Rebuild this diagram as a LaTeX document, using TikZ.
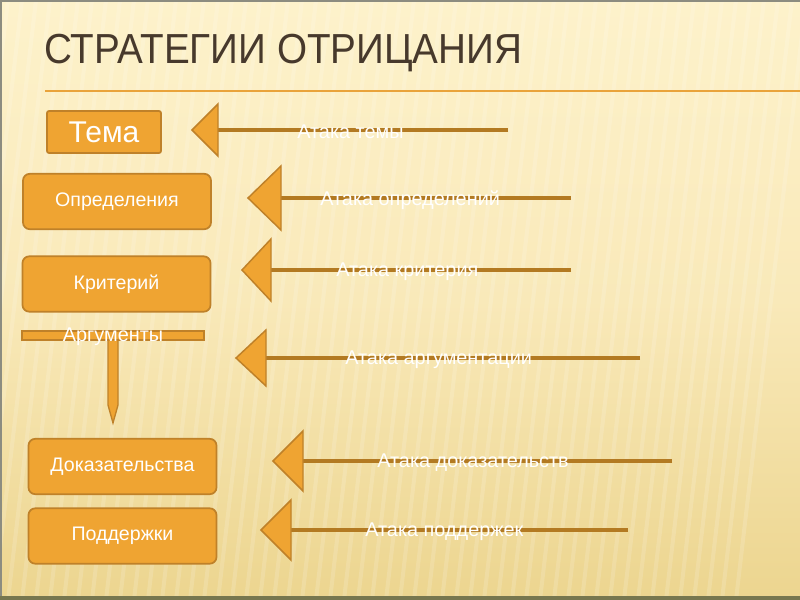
\documentclass[tikz,border=0pt]{standalone}
\usepackage{fontspec}
\setmainfont{Liberation Sans}
\definecolor{bgtop}{HTML}{FDF2CB}
\definecolor{bgmid}{HTML}{F9E9B9}
\definecolor{bgbot}{HTML}{ECD58F}
\definecolor{boxfill}{HTML}{EFA432}
\definecolor{boxdraw}{HTML}{BF8129}
\definecolor{shaft}{HTML}{B37A22}
\definecolor{titlecol}{HTML}{47392C}
\definecolor{rulecol}{HTML}{E9A33B}
\definecolor{framecol}{HTML}{8C8C80}
\definecolor{bottomcol}{HTML}{77774F}
\tikzset{
  box/.style={draw=boxdraw, fill=boxfill, line width=1.3pt, rounded corners=5pt,
    minimum width=141pt, minimum height=41.5pt, text=white, font=\fontsize{14.7}{17}\selectfont, inner sep=0pt},
  temabox/.style={box, rounded corners=1.5pt, minimum width=85.5pt, minimum height=31.5pt, font=\fontsize{22.5}{25}\selectfont},
  lbl/.style={text=white, font=\fontsize{14.9}{17}\selectfont, inner sep=0pt, anchor=west},
  shaftline/.style={draw=shaft, line width=3.2pt},
  head/.style={draw=boxdraw, fill=boxfill, line width=1.1pt, line join=miter},
}
\begin{document}
\begin{tikzpicture}[x=0.75pt, y=-0.75pt]
\useasboundingbox (0,0) rectangle (800,600);
% background
\shade[top color=bgtop, bottom color=bgbot, middle color=bgmid] (0,0) rectangle (800,600);
\begin{scope}
\clip (0,0) rectangle (800,600);
\foreach \i in {0,...,64} {
  \draw[white, opacity=0.15, line width=3pt] ({\i*14-160},600) -- ({\i*14-90},0);
}
\end{scope}
\fill[framecol] (0,0) rectangle (800,1.5);
\fill[framecol] (0,0) rectangle (1.5,600);
\fill[bottomcol] (0,596) rectangle (800,600);
% title
\node[anchor=base west, inner sep=0pt, text=titlecol] (title) at (44,63)
  {\scalebox{0.92}[1]{\fontsize{31.5}{34}\selectfont СТРАТЕГИИ ОТРИЦАНИЯ}};
\coordinate (ruleL) at (45,91);
\coordinate (ruleR) at (800,91);
\draw[rulecol, line width=2.2pt] (ruleL) -- (ruleR);
% boxes
\node[temabox] (tema) at (104,132) {Тема};
\node[box] (opr) at (117,201.5) {Определения};
\node[box] (krit) at (116.5,284) {Критерий};
\node[box] (dok) at (122.5,466.5) {Доказательства};
\node[box] (podd) at (122.5,536) {Поддержки};
% arguments bar + down arrow
\path[draw=boxdraw, fill=boxfill, line width=1pt] (22,331) rectangle (204,340);
\path[draw=boxdraw, fill=boxfill, line width=1pt] (108,340) -- (118,340) -- (118,405) -- (113,423) -- (108,405) -- cycle;
\node[text=white, font=\fontsize{14.9}{17}\selectfont, inner sep=0pt] (arg) at (113,337) {Аргументы};
% attack arrows
\foreach \tip/\back/\hh/\endx/\yy/\lx/\txt/\nm in {
  192/218/26/508/130/297/{Атака темы}/a1,
  248/281/32/571/198/320/{Атака определений}/a2,
  242/271/31/571/270/336/{Атака критерия}/a3,
  236/266/28/640/358/345/{Атака аргументации}/a4,
  273/303/30/672/461/377/{Атака доказательств}/a5,
  261/291/30/628/530/365/{Атака поддержек}/a6} {
  \coordinate (\nm-tip) at (\tip,\yy);
  \coordinate (\nm-back) at (\back,\yy);
  \coordinate (\nm-end) at (\endx,\yy);
  \draw[shaftline] (\nm-end) -- (\nm-back);
  \draw[head] (\nm-tip) -- (\back,\yy-\hh) -- (\back,\yy+\hh) -- cycle;
  \node[lbl] (\nm-lbl) at (\lx,\yy+2) {\txt};
}
\end{tikzpicture}
\end{document}
